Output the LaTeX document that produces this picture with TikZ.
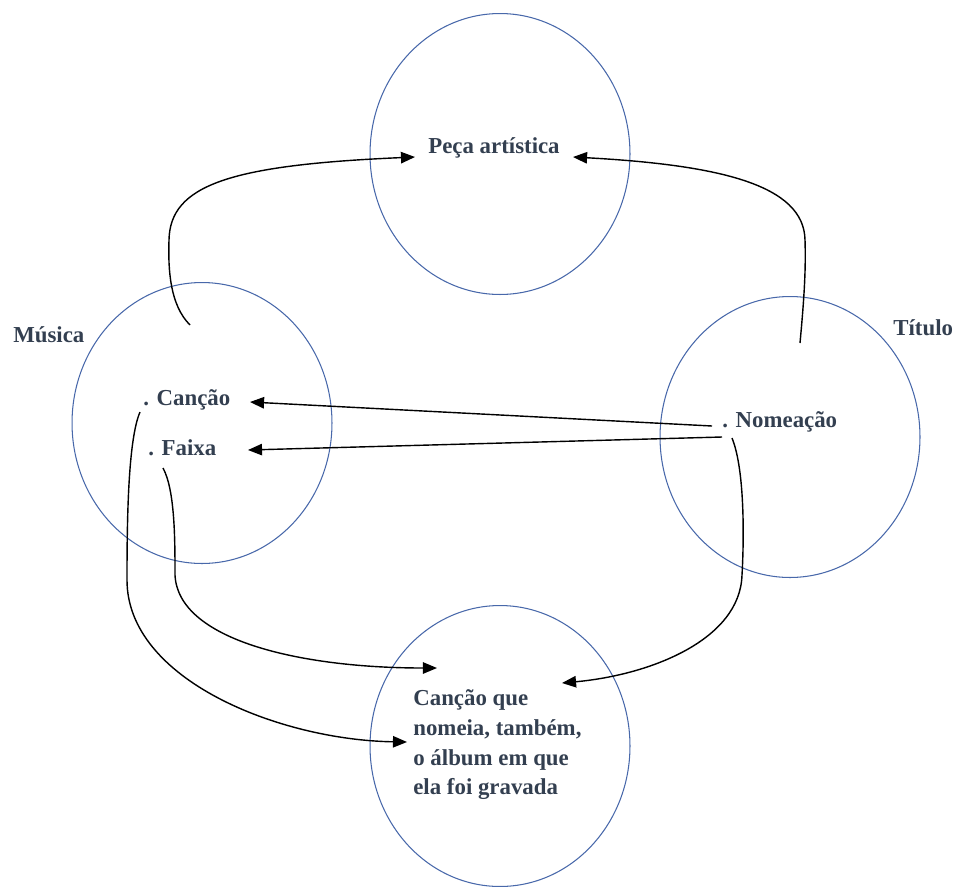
\documentclass[tikz,border=0pt]{standalone}
\usepackage{fontspec}
\setmainfont{Liberation Serif}
\usetikzlibrary{arrows.meta,shapes.geometric}
\definecolor{ringblue}{RGB}{72,104,170}
\definecolor{inkgray}{RGB}{51,63,80}
\tikzset{
  ring/.style={ellipse, draw=ringblue, line width=0.6pt, minimum width=5.2cm, minimum height=5.62cm},
  word/.style={text=inkgray, font=\fontsize{13}{17}\selectfont\bfseries, inner sep=0pt},
  link/.style={draw=black, line width=0.8pt, -{Triangle[length=8pt,width=6.5pt]}}
}
\begin{document}
\begin{tikzpicture}[x=0.02cm, y=-0.02cm]
      \useasboundingbox (0,0) rectangle (959,886);
      \draw
        (500,154) node[ring] (peca ring){}
        (202,423) node[ring] (musica ring){}
        (790,437) node[ring] (titulo ring){}
        (500,746) node[ring] (album ring){};
      \draw
        (494,148) node[word] (peca){Peça artística}
        (13,335) node[word, anchor=west] (musica){Música}
        (893,328) node[word, anchor=west] (titulo){Título}
        (143,400) node[word, anchor=west] (cancao){. Canção}
        (148,448) node[word, anchor=west] (faixa){. Faixa}
        (722,422) node[word, anchor=west] (nomeacao){. Nomeação}
        (413,689) node[word, anchor=north west, align=left] (album){Canção que\\nomeia, também,\\o álbum em que\\ela foi gravada};
      \coordinate (musica up) at (190,325);
      \coordinate (titulo up) at (800,343);
      \coordinate (peca left) at (415,157);
      \coordinate (peca right) at (573,157);
      \coordinate (nome a) at (712,426);
      \coordinate (nome b) at (722,437);
      \coordinate (nome c) at (732,438);
      \coordinate (cancao tip) at (250,402);
      \coordinate (faixa tip) at (248,450);
      \coordinate (cancao down) at (140,412);
      \coordinate (faixa down) at (163,468);
      \coordinate (album a) at (437,668);
      \coordinate (album b) at (407,742);
      \coordinate (album c) at (562,683);
      \begin{scope}[link]
        \draw (musica up) .. controls (170,305) and (168,270) .. (169,240) .. controls (170,185) and (230,165) .. (peca left);
        \draw (titulo up) .. controls (804,300) and (806,270) .. (805,240) .. controls (804,185) and (720,165) .. (peca right);
        \draw (nome a) to (cancao tip);
        \draw (nome b) to (faixa tip);
        \draw (nome c) .. controls (745,470) and (744,540) .. (742,575) .. controls (740,640) and (650,675) .. (album c);
        \draw (faixa down) .. controls (175,490) and (175,540) .. (175,575) .. controls (178,640) and (300,668) .. (album a);
        \draw (cancao down) .. controls (128,440) and (127,520) .. (127,580) .. controls (127,680) and (280,740) .. (album b);
      \end{scope}
    \end{tikzpicture}
\end{document}
